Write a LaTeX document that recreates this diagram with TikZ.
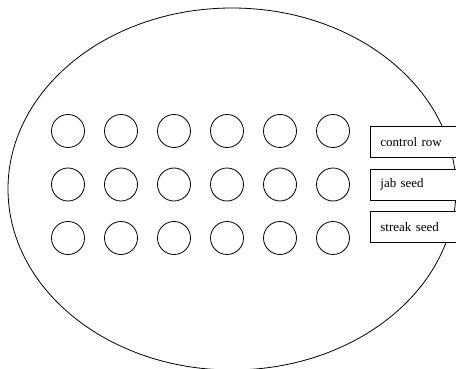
\documentclass[tikz,border=0pt]{standalone}
\usepackage{fontspec}
\setmainfont{Liberation Serif}
\usetikzlibrary{shapes.geometric}
\tikzset{
  plot/.style={circle, draw, line width=0.8pt, minimum size=33pt, inner sep=0pt},
  field/.style={ellipse, draw, line width=0.8pt, minimum width=448pt, minimum height=362pt, inner sep=0pt},
  legendbox/.style={draw, fill=white, line width=0.8pt, anchor=west, minimum height=31pt, text width=72pt,
    inner xsep=10pt, inner ysep=0pt, align=left, font=\fontsize{13}{15}\selectfont}
}
\begin{document}
\begin{tikzpicture}[x=1pt, y=-1pt]
\useasboundingbox (0,0) rectangle (456,369);
\node[field] (field) at (232,189) {};
\foreach \r/\y in {1/131, 2/184.5, 3/238} {
  \foreach \c in {1,...,6} {
    \node[plot] (p-\r-\c) at ({68+53*(\c-1)}, \y) {};
  }
}
\node[legendbox] (control) at (370,142) {control row};
\node[legendbox] (jab) at (370,184.5) {jab seed};
\node[legendbox] (streak) at (370,227) {streak seed};
\end{tikzpicture}
\end{document}
